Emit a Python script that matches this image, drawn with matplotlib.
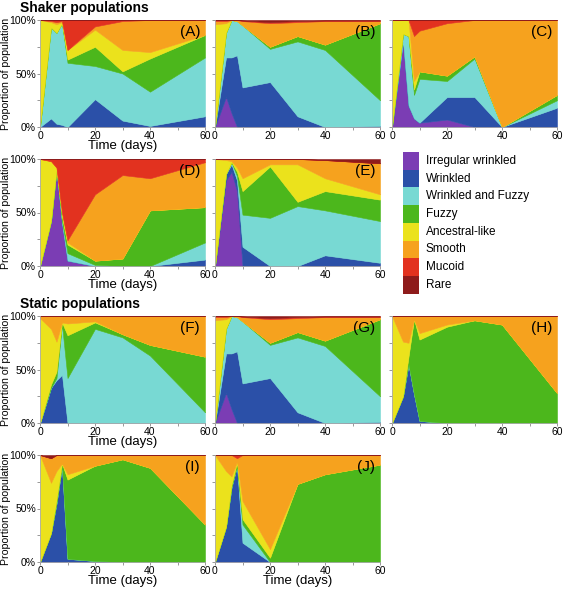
import numpy as np
import matplotlib.pyplot as plt
from matplotlib.patches import Rectangle

plt.rcParams['font.family'] = ['Liberation Sans', 'DejaVu Sans']

# ---- data (percent of population) ----
days = [0, 4, 6, 8, 10, 20, 30, 40, 60]

morphs = ['Irregular wrinkled', 'Wrinkled', 'Wrinkled and Fuzzy', 'Fuzzy',
          'Ancestral-like', 'Smooth', 'Mucoid', 'Rare']
colors = ['#7b3db4', '#2b50a8', '#78d9d3', '#4cb71c',
          '#ebe21c', '#f6a21e', '#e2321f', '#8e1b1b']

# rows follow the order of `morphs`
A_vals = [[0, 0, 0, 0, 0, 0, 0, 0, 0],
          [0, 8, 3, 2, 0, 26, 6, 1, 10],
          [0, 85, 85, 95, 60, 31, 44, 32, 55],
          [0, 0, 0, 0, 3, 18, 2, 31, 21],
          [100, 5, 8, 1, 9, 16, 20, 6, 0],
          [0, 1, 2, 1, 0, 3, 27, 30, 14],
          [0, 1, 2, 1, 28, 6, 1, 0, 0],
          [0, 0, 0, 0, 0, 0, 0, 0, 0]]

B_vals = [[0, 28, 13, 0, 0, 0, 0, 0, 0],
          [0, 37, 52, 67, 37, 42, 10, 0, 1],
          [0, 23, 35, 32, 58, 31, 70, 72, 24],
          [0, 0, 0, 0, 0, 2, 5, 5, 72],
          [96, 9, 0, 0, 0, 0, 0, 0, 0],
          [3, 2, 0, 1, 4, 22, 13, 22, 2],
          [1, 1, 0, 0, 0.5, 1, 1, 0.5, 0.5],
          [0, 0, 0, 0, 0.5, 2, 1, 0.5, 0.5]]

C_vals = [[0, 80, 20, 8, 4, 7, 0, 0, 0],
          [0, 0, 0, 0, 0, 21, 28, 0, 18],
          [0, 7, 65, 22, 41, 15, 36, 0, 7],
          [0, 0, 0, 5, 7, 5, 2, 0, 5],
          [100, 13, 15, 8, 0, 0, 0, 0, 0],
          [0, 0, 0, 42, 38, 49, 34, 100, 70],
          [0, 0, 0, 15, 10, 3, 0, 0, 0],
          [0, 0, 0, 0, 0, 0, 0, 0, 0]]

D_vals = [[0, 42, 90, 40, 5, 0, 0, 0, 0],
          [0, 0, 0, 0, 0, 0, 0, 0, 6],
          [0, 0, 0, 2, 7, 1, 0, 0, 16],
          [0, 0, 0, 4, 8, 4, 7, 52, 33],
          [100, 56, 2, 4, 2, 0, 0, 0, 0],
          [0, 0, 0, 0, 2, 62, 78, 30, 42],
          [0, 2, 8, 50, 76, 33, 15, 18, 3],
          [0, 0, 0, 0, 0, 0, 0, 0, 0]]

E_vals = [[0, 80, 88, 70, 0, 0, 0, 0, 0],
          [0, 6, 7, 10, 18, 0, 0, 10, 3],
          [0, 0, 2, 4, 30, 45, 56, 42, 39],
          [0, 0, 0, 4, 22, 48, 4, 18, 20],
          [100, 13, 1, 4, 12, 2, 35, 12, 5],
          [0, 1, 2, 8, 18, 5, 5, 17, 29],
          [0, 0, 0, 0, 0, 0, 0, 0, 0],
          [0, 0, 0, 0, 0, 0, 0, 1, 4]]

F_vals = [[0, 0, 0, 0, 0, 0, 0, 0, 0],
          [0, 33, 40, 45, 0, 0, 0, 0, 0],
          [0, 0, 2, 47, 42, 88, 80, 63, 10],
          [0, 3, 6, 2, 40, 6, 3, 10, 52],
          [98, 52, 28, 0, 11, 1, 0, 0, 0],
          [2, 12, 24, 6, 7, 5, 17, 27, 38],
          [0, 0, 0, 0, 0, 0, 0, 0, 0],
          [0, 0, 0, 0, 0, 0, 0, 0, 0]]

G_vals = [[0, 28, 13, 0, 0, 0, 0, 0, 0],
          [0, 37, 52, 67, 37, 42, 10, 0, 1],
          [0, 23, 35, 32, 58, 31, 70, 72, 24],
          [0, 0, 0, 0, 0, 2, 5, 5, 72],
          [96, 9, 0, 0, 0, 0, 0, 0, 0],
          [3, 2, 0, 1, 4, 22, 13, 22, 2],
          [1, 1, 0, 0, 0.5, 1, 1, 0.5, 0.5],
          [0, 0, 0, 0, 0.5, 2, 1, 0.5, 0.5]]

H_vals = [[0, 0, 0, 0, 0, 0, 0, 0, 0],
          [0, 25, 55, 27, 2, 0, 0, 0, 0],
          [0, 0, 0, 0, 0, 0, 0, 0, 0],
          [0, 0, 7, 70, 76, 90, 96, 92, 28],
          [100, 51, 13, 0, 6, 2, 0, 0, 0],
          [0, 24, 25, 3, 16, 8, 4, 8, 72],
          [0, 0, 0, 0, 0, 0, 0, 0, 0],
          [0, 0, 0, 0, 0, 0, 0, 0, 0]]

I_vals = [[0, 0, 0, 0, 0, 0, 0, 0, 0],
          [0, 27, 55, 90, 3, 1, 0, 0, 0],
          [0, 0, 0, 0, 0, 0, 0, 0, 0],
          [0, 0, 3, 2, 74, 89, 96, 88, 35],
          [100, 47, 27, 0, 5, 0, 0, 0, 0],
          [0, 23, 15, 8, 18, 10, 4, 12, 65],
          [0, 0, 0, 0, 0, 0, 0, 0, 0],
          [0, 3, 0, 0, 0, 0, 0, 0, 0]]

J_vals = [[0, 0, 0, 0, 0, 0, 0, 0, 0],
          [0, 33, 70, 90, 18, 0, 0, 0, 0],
          [0, 0, 0, 0, 17, 0, 0, 0, 0],
          [0, 0, 2, 3, 5, 4, 73, 82, 91],
          [100, 52, 8, 1, 17, 8, 0, 0, 0],
          [0, 15, 20, 3, 43, 88, 27, 18, 9],
          [0, 0, 0, 3, 0, 0, 0, 0, 0],
          [0, 0, 0, 0, 0, 0, 0, 0, 0]]

panels = {'A': A_vals, 'B': B_vals, 'C': C_vals, 'D': D_vals, 'E': E_vals,
          'F': F_vals, 'G': G_vals, 'H': H_vals, 'I': I_vals, 'J': J_vals}

# ---- layout (pixels) ----
W, H = 566, 590
fig = plt.figure(figsize=(W / 100, H / 100), dpi=100)


def px_axes(left, top, w, h):
    return fig.add_axes([left / W, 1 - (top + h) / H, w / W, h / H])


col_left = [40, 215, 392]
row_top = [20, 159, 316, 455]
aw, ah = 165, 107
where = {'A': (0, 0), 'B': (0, 1), 'C': (0, 2), 'D': (1, 0), 'E': (1, 1),
         'F': (2, 0), 'G': (2, 1), 'H': (2, 2), 'I': (3, 0), 'J': (3, 1)}
xlabelled = ['A', 'D', 'F', 'I', 'J']

for name, vals in panels.items():
    r, c = where[name]
    ax = px_axes(col_left[c], row_top[r], aw, ah)
    v = np.array(vals, dtype=float)
    v = v / v.sum(axis=0) * 100
    ax.stackplot(days, v, colors=colors, linewidth=0.4, edgecolor='face')
    ax.set_xlim(0, 60)
    ax.set_ylim(0, 100)
    ax.set_xticks([0, 10, 20, 30, 40, 50, 60])
    ax.set_xticklabels(['0', '', '20', '', '40', '', '60'])
    ax.set_yticks([0, 25, 50, 75, 100])
    if c == 0:
        ax.set_yticklabels(['0%', '', '50%', '', '100%'])
        ax.set_ylabel('Proportion of population', fontsize=7.6)
        ax.yaxis.set_label_coords(-0.175, 0.5)
    else:
        ax.set_yticklabels([])
    if name in xlabelled:
        ax.set_xlabel('Time (days)', fontsize=9.5)
        ax.xaxis.set_label_coords(0.5, -0.125)
    ax.tick_params(length=2, width=0.6, color='#888888', labelsize=7.5, pad=0.8)
    for s in ['top', 'right']:
        ax.spines[s].set_visible(False)
    for s in ['left', 'bottom']:
        ax.spines[s].set_color('#aaaaaa')
        ax.spines[s].set_linewidth(0.6)
    ax.text(0.97, 0.89, f'({name})', transform=ax.transAxes, ha='right',
            va='center', fontsize=11)

fig.text(20 / W, 1 - 8 / H, 'Shaker populations', fontsize=10,
         fontweight='bold', va='center')
fig.text(20 / W, 1 - 304 / H, 'Static populations', fontsize=10,
         fontweight='bold', va='center')

# ---- legend ----
lg = px_axes(400, 150, 166, 145)
lg.set_xlim(400, 566)
lg.set_ylim(295, 150)
lg.axis('off')
for i, (m, col) in enumerate(zip(morphs, colors)):
    y0 = 152 + i * 17.7
    lg.add_patch(Rectangle((403, y0), 16, 17.7, color=col, lw=0))
    lg.text(426, y0 + 8.8, m, fontsize=8.5, va='center')

fig.savefig('out.png', dpi=100)
